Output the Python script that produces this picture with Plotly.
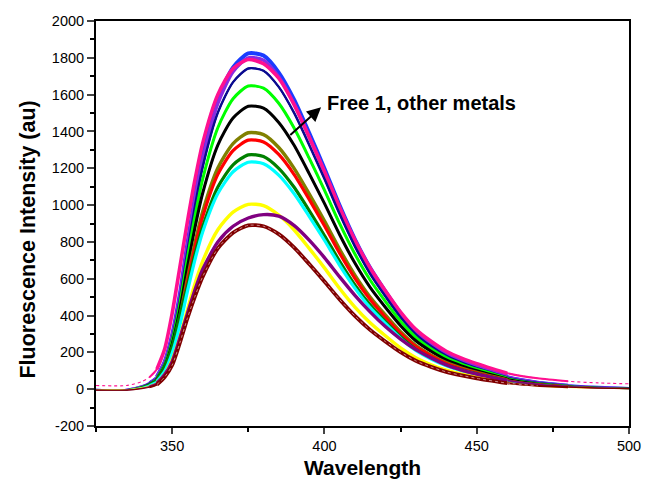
import plotly.graph_objects as go

wavelength = [325, 335, 340, 342.5, 345, 347.5, 350, 352.5, 355, 357.5, 360, 365, 370, 375,
              380, 385, 390, 395, 400, 405, 410, 415, 420, 425, 430, 435, 440, 445,
              450, 460, 470, 480, 490, 500]

blue    = [0, 0, 18, 37, 68, 146, 293, 512, 787, 1043, 1263, 1574, 1748, 1824,
           1812, 1720, 1574, 1391, 1199, 997, 814, 659, 531, 412, 315, 247, 192, 154,
           123, 70, 40, 24, 15, 9]
violet  = [0, 0, 18, 36, 67, 144, 289, 505, 776, 1029, 1245, 1552, 1724, 1800,
           1787, 1697, 1552, 1372, 1182, 984, 803, 650, 523, 406, 310, 244, 190, 152,
           121, 69, 40, 23, 14, 9]
magenta = [20, 20, 41, 64, 109, 215, 411, 659, 908, 1138, 1334, 1600, 1742, 1791,
           1768, 1689, 1547, 1369, 1183, 987, 810, 659, 535, 419, 325, 260, 206, 169,
           139, 87, 59, 43, 34, 29]
navy    = [-3, -3, 15, 32, 62, 137, 277, 487, 750, 995, 1205, 1502, 1668, 1742,
           1730, 1642, 1502, 1327, 1143, 951, 776, 627, 505, 391, 298, 233, 181, 144,
           114, 64, 36, 20, 11, 6]
lime    = [-3, -3, 14, 30, 58, 129, 262, 460, 709, 940, 1139, 1420, 1578, 1647,
           1635, 1553, 1420, 1255, 1081, 899, 734, 593, 477, 369, 282, 220, 171, 136,
           108, 60, 33, 19, 10, 5]
black   = [-3, -3, 12, 28, 54, 121, 244, 430, 661, 878, 1063, 1326, 1473, 1537,
           1527, 1449, 1326, 1171, 1009, 839, 685, 553, 445, 345, 263, 206, 159, 127,
           101, 56, 31, 17, 9, 5]
olive   = [-3, -3, 11, 25, 49, 109, 221, 389, 599, 795, 963, 1201, 1334, 1393,
           1383, 1313, 1201, 1061, 914, 760, 620, 501, 403, 312, 238, 186, 144, 115,
           91, 50, 28, 15, 8, 4]
red     = [-3, -3, 11, 24, 47, 106, 215, 378, 582, 772, 935, 1167, 1296, 1353,
           1343, 1275, 1167, 1031, 888, 738, 602, 487, 391, 303, 231, 181, 140, 111,
           88, 49, 27, 15, 8, 4]
dgreen  = [-3, -3, 12, 28, 52, 120, 230, 400, 560, 735, 880, 1098, 1219, 1273,
           1264, 1200, 1098, 970, 835, 695, 567, 458, 368, 285, 217, 170, 131, 105,
           83, 46, 25, 14, 7, 3]
cyan    = [-3, -3, 9, 22, 43, 96, 195, 344, 530, 704, 853, 1063, 1181, 1233,
           1225, 1163, 1063, 939, 809, 673, 549, 443, 357, 276, 210, 164, 127, 101,
           80, 44, 24, 13, 7, 3]
yellow  = [-3, -3, 7, 17, 34, 78, 159, 280, 431, 573, 694, 866, 962, 1004,
           997, 946, 866, 765, 659, 547, 446, 361, 290, 224, 171, 133, 103, 82,
           65, 35, 19, 10, 5, 2]
purple  = [-5, -5, 5, 15, 32, 78, 150, 275, 410, 540, 650, 800, 885, 930,
           948, 940, 890, 810, 715, 610, 510, 420, 340, 272, 215, 170, 132, 104,
           82, 47, 26, 14, 7, 3]
maroon  = [-5, -5, 3, 11, 25, 65, 130, 250, 385, 505, 610, 765, 850, 890,
           885, 842, 770, 680, 585, 487, 398, 322, 259, 201, 154, 121, 94, 75,
           59, 33, 19, 11, 6, 3]

y_tick_values = [-200, 0, 200, 400, 600, 800, 1000, 1200, 1400, 1600, 1800, 2000]
y_tick_labels = ["-200", "0", "200", "400", "600", "800", "1000", "1200", "1400",
                 "1600", "1800", "2000"]
x_tick_values = [350, 400, 450, 500]
x_tick_labels = ["350", "400", "450", "500"]

series = [
    ("blue", blue, "#1a3cff", 4.0),
    ("violet", violet, "#8a2be2", 3.4),
    ("magenta", magenta, "#ff1090", 3.6),
    ("navy", navy, "#0a0a90", 2.4),
    ("lime", lime, "#00ff00", 3.0),
    ("black", black, "#000000", 3.0),
    ("olive", olive, "#808000", 3.4),
    ("red", red, "#ff0000", 3.2),
    ("dgreen", dgreen, "#008000", 3.2),
    ("cyan", cyan, "#00ffff", 3.2),
    ("yellow", yellow, "#ffff00", 3.4),
    ("purple", purple, "#800080", 3.4),
    ("maroon", maroon, "#800000", 3.8),
]

spline = dict(shape="spline", smoothing=0.7)


def segment(vals, lo, hi):
    xs = [wl for wl in wavelength if lo <= wl <= hi]
    ys = [v for wl, v in zip(wavelength, vals) if lo <= wl <= hi]
    return xs, ys


fig = go.Figure()
# thin full-range traces (baseline and far tails are thin in the original)
for name, vals, color, w in series:
    fig.add_trace(go.Scatter(x=wavelength, y=vals, mode="lines", showlegend=False,
                             line=dict(color=color, width=1.1,
                                       dash="dot" if name == "magenta" else "solid", **spline),
                             hoverinfo="skip"))
# medium-width transition traces
for name, vals, color, w in series:
    xs, ys = segment(vals, 342.5, 480)
    fig.add_trace(go.Scatter(x=xs, y=ys, mode="lines", showlegend=False,
                             line=dict(color=color, width=max(1.6, w * 0.55), **spline),
                             hoverinfo="skip"))
# thick traces for the band region
for name, vals, color, w in series:
    xs, ys = segment(vals, 345, 460)
    fig.add_trace(go.Scatter(x=xs, y=ys, mode="lines", name=name, showlegend=False,
                             line=dict(color=color, width=w, **spline), hoverinfo="skip"))
# dotted texture on the maroon trace
xs, ys = segment(maroon, 345, 470)
fig.add_trace(go.Scatter(x=xs, y=ys, mode="lines", showlegend=False,
                         line=dict(color="#c98a8a", width=1, dash="dot", **spline),
                         hoverinfo="skip"))

font_family = "Arial, Liberation Sans, sans-serif"

fig.update_layout(
    width=653, height=492,
    margin=dict(l=96, r=15, t=21, b=66),
    paper_bgcolor="white", plot_bgcolor="white",
    font=dict(family=font_family, color="black"),
    xaxis=dict(range=[325, 500], tickmode="array", tickvals=x_tick_values, ticktext=x_tick_labels,
               ticks="outside", ticklen=6, tickwidth=2,
               showline=True, linewidth=2, linecolor="black", mirror=True,
               showgrid=False, zeroline=False, tickfont=dict(size=14.5, family=font_family),
               minor=dict(dtick=25, tick0=325, ticks="outside", ticklen=4, tickwidth=1.5, tickcolor="black")),
    yaxis=dict(range=[-200, 2000], tickmode="array", tickvals=y_tick_values, ticktext=y_tick_labels,
               ticks="outside", ticklen=7, tickwidth=2,
               showline=True, linewidth=2, linecolor="black", mirror=True,
               showgrid=False, zeroline=False, tickfont=dict(size=14.5, family=font_family),
               minor=dict(dtick=100, tick0=-200, ticks="outside", ticklen=4, tickwidth=1.5, tickcolor="black")),
)

fig.add_annotation(text="<b>Wavelength</b>", xref="paper", yref="paper", x=0.5, y=-0.102,
                   xanchor="center", yanchor="middle", showarrow=False,
                   font=dict(size=21, family=font_family))
fig.add_annotation(text="<b>Fluorescence Intensity (au)</b>", xref="paper", yref="paper",
                   x=-0.127, y=0.461, xanchor="center", yanchor="middle", textangle=-90,
                   showarrow=False, font=dict(size=21.5, family=font_family))
fig.add_annotation(text="<b>Free 1, other metals</b>", xref="x", yref="y", x=400.2, y=1554,
                   xanchor="left", yanchor="middle", showarrow=False,
                   font=dict(size=20, family=font_family))
fig.add_annotation(text="", xref="x", yref="y", x=398.9, y=1531, axref="x", ayref="y",
                   ax=388.3, ay=1373, showarrow=True, arrowhead=2, arrowsize=1.4,
                   arrowwidth=2, arrowcolor="black")

fig.write_html("out.html")
